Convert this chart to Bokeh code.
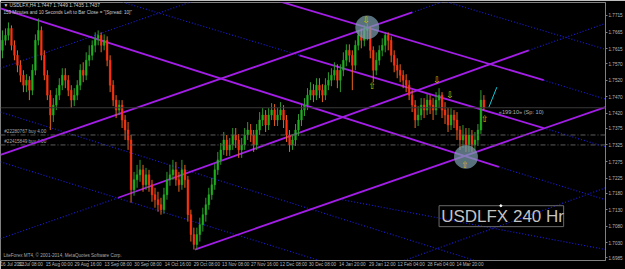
from bokeh.plotting import figure
from bokeh.models import Range1d, FixedTicker, Label, Span
from bokeh.core.properties import value
from bokeh.embed import file_html
from bokeh.resources import INLINE

# ---------------- data ----------------
first_open = 1.7610
closes = [1.7640,1.7655,1.7676,1.7625,1.7595,1.7565,1.7535,1.7505,1.7520,1.7490,
1.7550,1.7640,1.7670,1.7595,1.7535,1.7475,1.7415,1.7445,1.7475,1.7505,
1.7535,1.7520,1.7490,1.7460,1.7475,1.7505,1.7550,1.7535,1.7580,1.7595,
1.7625,1.7646,1.7655,1.7625,1.7640,1.7580,1.7505,1.7460,1.7430,1.7445,
1.7400,1.7370,1.7340,1.7190,1.7220,1.7235,1.7250,1.7205,1.7235,1.7205,
1.7175,1.7160,1.7145,1.7130,1.7175,1.7220,1.7235,1.7250,1.7220,1.7205,
1.7250,1.7220,1.7115,1.7055,1.7025,1.7055,1.7085,1.7115,1.7145,1.7175,
1.7205,1.7250,1.7280,1.7310,1.7340,1.7310,1.7325,1.7355,1.7340,1.7310,
1.7325,1.7355,1.7370,1.7355,1.7325,1.7370,1.7400,1.7415,1.7385,1.7415,
1.7430,1.7400,1.7415,1.7430,1.7400,1.7355,1.7325,1.7340,1.7370,1.7400,
1.7430,1.7445,1.7475,1.7490,1.7475,1.7505,1.7490,1.7475,1.7505,1.7520,
1.7535,1.7550,1.7520,1.7550,1.7580,1.7610,1.7595,1.7565,1.7625,1.7655,
1.7640,1.7670,1.7676,1.7610,1.7550,1.7580,1.7610,1.7625,1.7655,1.7640,
1.7595,1.7565,1.7550,1.7535,1.7520,1.7505,1.7475,1.7445,1.7400,1.7415,
1.7445,1.7430,1.7460,1.7445,1.7430,1.7460,1.7475,1.7430,1.7415,1.7385,
1.7415,1.7400,1.7370,1.7340,1.7355,1.7325,1.7355,1.7325,1.7340,1.7370,
1.7460,1.7437]
highs = [1.7670,1.7676,1.7694,1.7685,1.7640,1.7610,1.7580,1.7550,1.7538,1.7532,
1.7568,1.7658,1.7706,1.7682,1.7610,1.7550,1.7490,1.7466,1.7496,1.7526,
1.7556,1.7556,1.7535,1.7505,1.7496,1.7520,1.7568,1.7574,1.7604,1.7625,
1.7640,1.7664,1.7670,1.7664,1.7658,1.7652,1.7595,1.7520,1.7475,1.7460,
1.7460,1.7415,1.7394,1.7355,1.7244,1.7265,1.7280,1.7265,1.7256,1.7250,
1.7220,1.7196,1.7184,1.7166,1.7196,1.7244,1.7265,1.7280,1.7274,1.7244,
1.7280,1.7265,1.7232,1.7130,1.7076,1.7076,1.7106,1.7136,1.7166,1.7196,
1.7226,1.7268,1.7304,1.7331,1.7364,1.7355,1.7346,1.7376,1.7376,1.7358,
1.7346,1.7376,1.7394,1.7388,1.7370,1.7388,1.7424,1.7436,1.7430,1.7436,
1.7451,1.7448,1.7436,1.7454,1.7445,1.7415,1.7370,1.7358,1.7388,1.7418,
1.7448,1.7466,1.7496,1.7514,1.7508,1.7526,1.7526,1.7508,1.7526,1.7544,
1.7556,1.7574,1.7568,1.7568,1.7604,1.7628,1.7628,1.7610,1.7640,1.7670,
1.7676,1.7685,1.7691,1.7682,1.7622,1.7604,1.7625,1.7646,1.7664,1.7664,
1.7652,1.7610,1.7586,1.7568,1.7550,1.7538,1.7520,1.7490,1.7460,1.7442,
1.7466,1.7466,1.7478,1.7475,1.7466,1.7484,1.7496,1.7484,1.7454,1.7436,
1.7436,1.7430,1.7424,1.7382,1.7385,1.7376,1.7376,1.7370,1.7364,1.7388,
1.7490,1.7475]
lows = [1.7586,1.7625,1.7640,1.7610,1.7580,1.7544,1.7514,1.7484,1.7484,1.7460,
1.7475,1.7535,1.7625,1.7580,1.7520,1.7460,1.7370,1.7394,1.7430,1.7460,
1.7490,1.7496,1.7472,1.7436,1.7442,1.7460,1.7490,1.7514,1.7520,1.7562,
1.7580,1.7604,1.7625,1.7604,1.7610,1.7562,1.7484,1.7442,1.7406,1.7415,
1.7376,1.7340,1.7310,1.7151,1.7172,1.7196,1.7214,1.7184,1.7190,1.7184,
1.7154,1.7136,1.7124,1.7115,1.7118,1.7160,1.7202,1.7220,1.7202,1.7184,
1.7190,1.7196,1.7094,1.7034,1.7010,1.7010,1.7034,1.7064,1.7094,1.7130,
1.7160,1.7190,1.7235,1.7265,1.7295,1.7292,1.7292,1.7310,1.7316,1.7286,
1.7286,1.7310,1.7340,1.7334,1.7304,1.7310,1.7355,1.7382,1.7364,1.7370,
1.7400,1.7382,1.7382,1.7400,1.7376,1.7334,1.7304,1.7310,1.7322,1.7352,
1.7382,1.7412,1.7430,1.7460,1.7454,1.7460,1.7466,1.7454,1.7460,1.7490,
1.7502,1.7520,1.7496,1.7484,1.7532,1.7562,1.7574,1.7490,1.7550,1.7610,
1.7616,1.7622,1.7640,1.7586,1.7514,1.7535,1.7565,1.7592,1.7604,1.7610,
1.7574,1.7544,1.7526,1.7514,1.7496,1.7484,1.7460,1.7424,1.7376,1.7382,
1.7400,1.7406,1.7415,1.7418,1.7400,1.7415,1.7436,1.7406,1.7388,1.7364,
1.7370,1.7376,1.7340,1.7310,1.7316,1.7304,1.7304,1.7304,1.7310,1.7322,
1.7358,1.7430]

y_ticks = [1.7715, 1.7665, 1.7615, 1.7570, 1.7520, 1.7470, 1.7420, 1.7375,
           1.7325, 1.7275, 1.7225, 1.7180, 1.7130, 1.7080, 1.7030, 1.6985]
x_tick_pos = [-0.33, 9.33, 19, 28.67, 38.67, 48.67, 58.67, 68.33, 78, 87.67,
              97.33, 107, 117, 127, 136.67, 146.67, 156.33]
x_tick_labels = ["16 Jul 2013", "31 Jul 08:00", "15 Aug 00:00", "29 Aug 16:00",
                 "13 Sep 08:00", "30 Sep 08:00", "14 Oct 16:00", "29 Oct 08:00",
                 "13 Nov 08:00", "27 Nov 16:00", "12 Dec 08:00", "30 Dec 08:00",
                 "14 Jan 20:00", "29 Jan 12:00", "12 Feb 04:00", "28 Feb 04:00",
                 "14 Mar 20:00"]

last_price = 1.7437
order_prices = [1.7355, 1.7325]
order_labels = ["#22280767 buy 4.00", "#22415849 buy 4.00"]

# trend lines (bar index, price)
purple_x0 = [-0.67, 38.67, 64.33, 91.67, 99.33, -0.67]
purple_y0 = [1.7295, 1.7166, 1.7010, 1.7760, 1.7595, 1.7736]
purple_x1 = [137.0, 176.0, 201.67, 181.0, 181.0, 166.0]
purple_y1 = [1.7724, 1.7610, 1.7439, 1.7520, 1.7376, 1.7259]

blue_x0 = [-0.67, 137.0, -0.67, 176.0, 134.33, 147.0, 181.0, 38.33, 181.0, 166.0, 113.67, -0.67, -0.67]
blue_y0 = [1.7556, 1.7724, 1.7043, 1.7610, 1.6977, 1.7760, 1.7520, 1.7760, 1.7376, 1.7259, 1.7160, 1.7424, 1.7274]
blue_x1 = [64.33, 148.33, 38.67, 201.67, 201.67, 201.67, 201.67, 99.33, 201.67, 201.67, 201.67, 158.0, 106.0]
blue_y1 = [1.7760, 1.7760, 1.7166, 1.7691, 1.7196, 1.7613, 1.7463, 1.7595, 1.7319, 1.7160, 1.7010, 1.6977, 1.6977]

circle_x = [122.0, 155.0]
circle_y = [1.7679, 1.7289]

arrow_x = [121.67, 123.67, 145.33, 149.67, 161.33, 154.67]
arrow_y = [1.7700, 1.7502, 1.7520, 1.7475, 1.7403, 1.7265]
arrow_txt = ["\u21e9", "\u21e7", "\u21e9", "\u21e9", "\u21e7", "\u21e7"]

cyan_x = [162.67, 165.33]
cyan_y = [1.7439, 1.7499]

# ---------------- figure ----------------
p = figure(width=625, height=269, output_backend="svg", toolbar_location=None,
           x_range=Range1d(-0.667, 201.667), y_range=Range1d(1.6977, 1.7754),
           y_axis_location="right", background_fill_color="black",
           border_fill_color="black", outline_line_color="#808080",
           min_border_left=0, min_border_right=18, min_border_top=2, min_border_bottom=8)
p.grid.visible = False

font = "Liberation Sans"
for ax in [p.xaxis[0], p.yaxis[0]]:
    ax.axis_line_color = "#808080"
    ax.major_tick_line_color = "#808080"
    ax.minor_tick_line_color = None
    ax.major_tick_in = 0
    ax.major_tick_out = 2
    ax.major_label_text_color = "#b8b8b8"
    ax.major_label_text_font = font
    ax.major_label_text_font_size = "4.6px"
    ax.major_label_standoff = 1

p.yaxis[0].ticker = FixedTicker(ticks=y_ticks)
p.yaxis[0].major_label_overrides = {t: "%.4f" % t for t in y_ticks}
p.xaxis[0].ticker = FixedTicker(ticks=x_tick_pos)
p.xaxis[0].major_label_overrides = {t: l for t, l in zip(x_tick_pos, x_tick_labels)}
p.xaxis[0].major_label_text_align = "left"
p.xaxis[0].major_label_standoff = 0
p.xaxis[0].major_tick_out = 1

# horizontal lines
p.add_layout(Span(location=last_price, dimension="width", line_color="#3a3a3a", line_width=1))
for op in order_prices:
    p.add_layout(Span(location=op, dimension="width", line_color="#5c5c5c",
                      line_width=1, line_dash="5 2 1 2"))
p.text(x=[0.6, 0.6], y=[op + 0.0003 for op in order_prices], text=order_labels,
       text_font=value(font), text_font_size="4.6px", text_color="#a8a8a8",
       text_baseline="bottom")

# trend lines
p.segment(blue_x0, blue_y0, blue_x1, blue_y1, line_color="#1a1ad8", line_width=1.2,
          line_dash="1 2")
p.segment(purple_x0, purple_y0, purple_x1, purple_y1, line_color="#a21ee6", line_width=1.8)

# candles
n = len(closes)
xs = list(range(n))
opens = [first_open] + closes[:-1]
cols = ["#1fb01f" if c >= o else "#ff3010" for o, c in zip(opens, closes)]
wick_cols = ["#2f9a2f" if c >= o else "#e86420" for o, c in zip(opens, closes)]
p.segment(xs, highs, xs, lows, line_color=wick_cols, line_width=1)
p.vbar(x=xs, width=0.55, top=[max(o, c) for o, c in zip(opens, closes)],
       bottom=[min(o, c) for o, c in zip(opens, closes)],
       fill_color=cols, line_color=cols, line_width=0.5)

# circles
p.ellipse(x=circle_x, y=circle_y, width=8.0, height=0.0072,
          fill_color="#7c9cac", fill_alpha=0.72, line_color=None)

# arrows
p.text(x=arrow_x, y=arrow_y, text=arrow_txt, text_font=value("DejaVu Sans"),
       text_font_size="9px", text_color="#d0c000", text_align="center",
       text_baseline="middle")

# cyan line
p.line(cyan_x, cyan_y, line_color="#10c8d8", line_width=1)

# texts
p.text(x=[0.3], y=[1.7745], text=["\u25bc USDLFX,H4  1.7447 1.7449 1.7435 1.7437"],
       text_font=value(font), text_font_size="4.8px", text_color="#d0d0d0",
       text_baseline="middle")
p.text(x=[0.3], y=[1.7724],
       text=['159 Minutes and 10 Seconds Left to Bar Close = "[Spread: 10]"'],
       text_font=value(font), text_font_size="4.6px", text_color="#c8c8c8",
       text_baseline="middle")
p.text(x=[0.3], y=[1.6992], text=["LiteForex MT4, \u00a9 2001-2014, MetaQuotes Software Corp."],
       text_font=value(font), text_font_size="4.6px", text_color="#a8a8a8",
       text_baseline="middle")
p.text(x=[166.0], y=[1.7424], text=["\u00ab199:10\u00bb (Sp: 10)"],
       text_font=value(font), text_font_size="5.6px", text_color="#b0b0b0",
       text_baseline="middle")

# big label box
p.quad(left=[146.0], right=[187.67], top=[1.7142], bottom=[1.7079],
       fill_color=None, line_color="#6a6a6a", line_width=1)
p.text(x=[146.7], y=[1.71105], text=["USDLFX 240 Hr"], text_font=value(font),
       text_font_size="17px", text_color="#c4c4c4", text_baseline="middle")
p.scatter(x=[166.67], y=[1.7142], size=2, color="white")

# current price box on the axis
p.add_layout(Label(x=202.4, y=last_price, text="1.7437", text_font=font,
                   text_font_size="4.8px", text_color="black", text_baseline="middle",
                   background_fill_color="#c8c8c8", padding=1))

open("out.html", "w").write(file_html(p, INLINE))
